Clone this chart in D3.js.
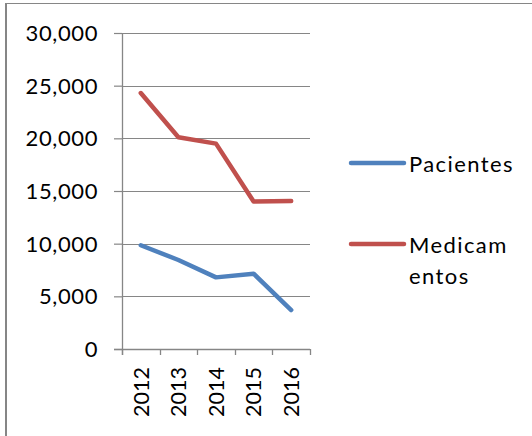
<!DOCTYPE html>
<html>
<head>
<meta charset="utf-8">
<script src="https://cdn.jsdelivr.net/npm/d3@7"></script>
<style>
  body { margin: 0; background: #fff; }
  svg { display: block; font-family: Lato, "Open Sans", sans-serif; }
</style>
</head>
<body>
<svg id="chart" width="532" height="436"></svg>
<script>
// chart data
const years = ["2012", "2013", "2014", "2015", "2016"];
const pacientes = [9850, 8450, 6800, 7150, 3700];
const medicamentos = [24300, 20100, 19500, 14000, 14050];
const seriesNames = ["Pacientes", "Medicamentos"];
const yTicks = [0, 5000, 10000, 15000, 20000, 25000, 30000];

const colors = ["#4F81BD", "#C0504D"];
const gray = "#868686";

const svg = d3.select("#chart");

// chart frame (cropped on the right and bottom)
svg.append("line").attr("x1", 6).attr("x2", 6).attr("y1", 3).attr("y2", 436)
    .attr("stroke", gray).attr("stroke-width", 2);
svg.append("line").attr("x1", 5).attr("x2", 532).attr("y1", 3.5).attr("y2", 3.5)
    .attr("stroke", gray).attr("stroke-width", 1);

const plot = {left: 122, right: 310, top: 33, bottom: 349};

const x = d3.scaleBand()
    .domain(years)
    .range([plot.left, plot.right])
    .paddingInner(0)
    .paddingOuter(0);

const y = d3.scaleLinear()
    .domain([0, 30000])
    .range([plot.bottom, plot.top]);

// horizontal gridlines
svg.append("g")
    .selectAll("line")
    .data(yTicks.filter(d => d > 0))
    .join("line")
    .attr("x1", plot.left)
    .attr("x2", plot.right)
    .attr("y1", d => Math.round(y(d)) + 0.5)
    .attr("y2", d => Math.round(y(d)) + 0.5)
    .attr("stroke", gray)
    .attr("stroke-width", 1.2);

// y axis
const yAxis = svg.append("g")
    .attr("transform", `translate(${plot.left},0)`)
    .call(d3.axisLeft(y).tickValues(yTicks).tickFormat(d3.format(",")).tickSize(8).tickPadding(16));
yAxis.select(".domain").remove();
yAxis.selectAll(".tick line").attr("stroke", gray).attr("stroke-width", 1.2);
yAxis.selectAll(".tick text")
    .attr("fill", "#000")
    .attr("font-size", 22)
    .attr("letter-spacing", 0.6)
    .attr("dy", "0.34em")
    .attr("font-family", "Lato, sans-serif");

// axis lines
svg.append("line")
    .attr("x1", plot.left + 0.5).attr("x2", plot.left + 0.5)
    .attr("y1", plot.top).attr("y2", plot.bottom + 6)
    .attr("stroke", gray).attr("stroke-width", 1.3);
svg.append("line")
    .attr("x1", plot.left - 8).attr("x2", plot.right)
    .attr("y1", plot.bottom + 0.5).attr("y2", plot.bottom + 0.5)
    .attr("stroke", gray).attr("stroke-width", 1.3);

// x ticks at category edges
const edges = years.map(d => x(d)).concat([x(years[years.length - 1]) + x.bandwidth()]);
svg.append("g")
    .selectAll("line")
    .data(edges)
    .join("line")
    .attr("x1", d => Math.round(d) + 0.5)
    .attr("x2", d => Math.round(d) + 0.5)
    .attr("y1", plot.bottom)
    .attr("y2", plot.bottom + 6)
    .attr("stroke", gray)
    .attr("stroke-width", 1.3);

// x labels, rotated
svg.append("g")
    .selectAll("text")
    .data(years)
    .join("text")
    .attr("transform", d => `translate(${x(d) + x.bandwidth() / 2},367) rotate(-90)`)
    .attr("text-anchor", "end")
    .attr("dy", "0.36em")
    .attr("font-size", 21.5)
    .text(d => d);

// series lines
const line = d3.line()
    .x((d, i) => x(years[i]) + x.bandwidth() / 2)
    .y(d => y(d));

svg.append("g")
    .selectAll("path")
    .data([pacientes, medicamentos])
    .join("path")
    .attr("d", d => line(d))
    .attr("fill", "none")
    .attr("stroke", (d, i) => colors[i])
    .attr("stroke-width", 4.5)
    .attr("stroke-linejoin", "round")
    .attr("stroke-linecap", "round");

// legend
const legendY = [163, 244];
const legend = svg.append("g")
    .selectAll("g")
    .data(seriesNames)
    .join("g")
    .attr("transform", (d, i) => `translate(0,${legendY[i]})`);

legend.append("line")
    .attr("x1", 351).attr("x2", 404)
    .attr("y1", 0).attr("y2", 0)
    .attr("stroke", (d, i) => colors[i])
    .attr("stroke-width", 4.5)
    .attr("stroke-linecap", "round");

// "Medicamentos" wraps in the original
const legendLines = [["Pacientes"], ["Medicam", "entos"]];
legend.append("text")
    .attr("x", 409)
    .attr("y", 0)
    .attr("font-size", 22)
    .attr("letter-spacing", 1.4)
    .attr("fill", "#000")
    .selectAll("tspan")
    .data((d, i) => legendLines[i])
    .join("tspan")
    .attr("x", 409)
    .attr("y", (d, j) => 8.5 + j * 31.3)
    .text(d => d);
</script>
</body>
</html>
